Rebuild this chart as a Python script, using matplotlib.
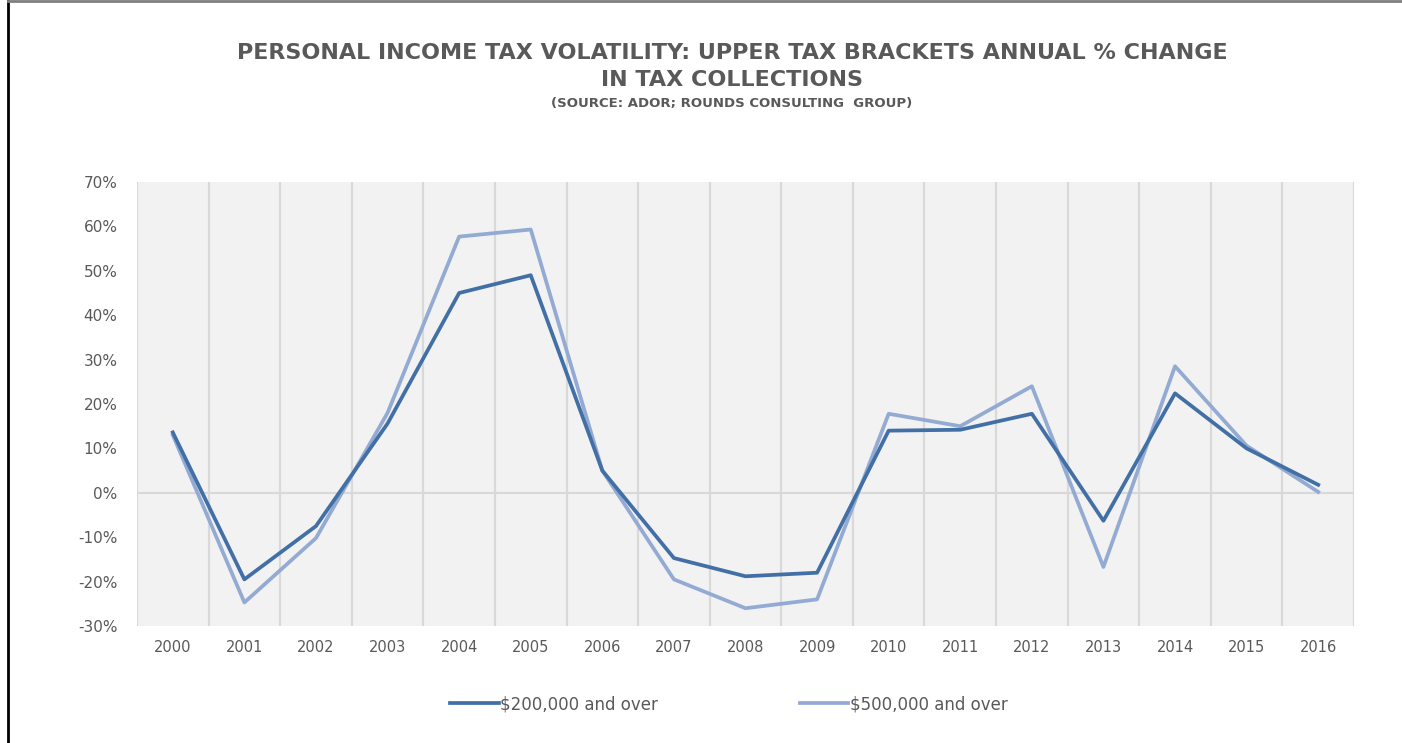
import matplotlib
matplotlib.use("Agg")
import matplotlib.pyplot as plt
from matplotlib.lines import Line2D
from matplotlib.ticker import FuncFormatter, MultipleLocator

years = ["2000", "2001", "2002", "2003", "2004", "2005", "2006", "2007", "2008",
         "2009", "2010", "2011", "2012", "2013", "2014", "2015", "2016"]
over_200k = [13.6, -19.5, -7.5, 15.6, 45.0, 49.0, 5.0, -14.7, -18.8,
             -18.0, 14.0, 14.2, 17.8, -6.3, 22.4, 10.0, 1.8]
over_500k = [13.0, -24.7, -10.2, 18.0, 57.7, 59.3, 5.0, -19.5, -26.0,
             -24.0, 17.8, 15.0, 24.0, -16.7, 28.5, 10.6, 0.2]
labels = ["$200,000 and over", "$500,000 and over"]

dark = "#4270A6"
light = "#93ABD3"
txt = "#595959"

fig = plt.figure(figsize=(14.02, 7.43), dpi=100)
ax = fig.add_axes([137/1402, 1 - 626/743, (1354-137)/1402, (626-182)/743])
ax.set_facecolor("#F2F2F2")

x = list(range(len(years)))
ax.plot(x, over_200k, color=dark, lw=2.7, label=labels[0].replace("$", r"\$"), zorder=4)
ax.plot(x, over_500k, color=light, lw=2.7, label=labels[1].replace("$", r"\$"), zorder=3)

ax.set_xlim(-0.5, len(years) - 0.5)
ax.set_ylim(-30, 70)
for b in range(len(years) + 1):
    ax.axvline(b - 0.5, color="#D9D9D9", lw=1.6, zorder=1)
ax.axhline(0, color="#D9D9D9", lw=1.6, zorder=1)

for s in ax.spines.values():
    s.set_visible(False)

ax.set_xticks(x)
ax.set_xticklabels(years)
ax.yaxis.set_major_locator(MultipleLocator(10))
ax.yaxis.set_major_formatter(FuncFormatter(lambda v, p: f"{v:.0f}%"))
ax.tick_params(axis="both", length=0, colors=txt)
ax.tick_params(axis="y", labelsize=11, pad=14)
ax.tick_params(axis="x", labelsize=10.5, pad=10)

fig.text(0.522, 1 - 53/743, "PERSONAL INCOME TAX VOLATILITY: UPPER TAX BRACKETS ANNUAL % CHANGE",
         ha="center", va="center", fontsize=16, fontweight="bold", color=txt, family="DejaVu Sans")
fig.text(0.522, 1 - 80/743, "IN TAX COLLECTIONS",
         ha="center", va="center", fontsize=16, fontweight="bold", color=txt, family="DejaVu Sans")
fig.text(0.522, 1 - 103/743, "(SOURCE: ADOR; ROUNDS CONSULTING  GROUP)",
         ha="center", va="center", fontsize=9.5, fontweight="bold", color=txt, family="DejaVu Sans")

leg = fig.legend(loc="center", bbox_to_anchor=(0.52, 1 - 704/743), ncol=2, frameon=False,
                 fontsize=12, handlelength=2.9, handletextpad=0.1, columnspacing=8.5)
for t in leg.get_texts():
    t.set_color(txt)

fig.add_artist(Line2D([8/1402, 8/1402], [0, 1], color="black", lw=2.0, transform=fig.transFigure))
fig.add_artist(Line2D([8/1402, 1], [1 - 1/743, 1 - 1/743], color="#7F7F7F", lw=2.0, transform=fig.transFigure))

fig.savefig("out.png", dpi=100)
